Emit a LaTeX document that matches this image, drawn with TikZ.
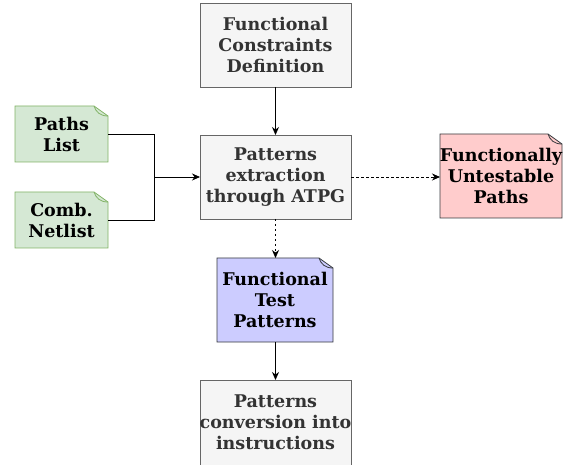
\documentclass[tikz,border=0pt]{standalone}
\usepackage{fontspec}
\setmainfont{DejaVu Serif}
\usetikzlibrary{arrows.meta}
\definecolor{grayfill}{HTML}{F5F5F5}
\definecolor{graydraw}{HTML}{666666}
\definecolor{graytext}{HTML}{333333}
\definecolor{greenfill}{HTML}{D5E8D4}
\definecolor{greendraw}{HTML}{82B366}
\definecolor{redfill}{HTML}{FFCCCC}
\definecolor{bluefill}{HTML}{CCCCFF}
\definecolor{darkdraw}{HTML}{36393D}
\tikzset{
  txt/.style={align=center, font=\fontsize{17.5}{21}\selectfont\bfseries, inner sep=0pt},
  procbox/.style={fill=grayfill, draw=graydraw, line width=0.8pt},
  conn/.style={draw=black, line width=0.8pt, -{Stealth[length=8pt,width=7pt]}},
  dconn/.style={conn, dash pattern=on 2.5pt off 2.5pt},
}
\newcommand{\notebox}[7]{% x1 y1 x2 y2 fill draw name
  \fill[#5] (#1,#2) -- ({#3-14},#2) -- (#3,{#2+10}) -- (#3,#4) -- (#1,#4) -- cycle;
  \draw[#6, line width=0.8pt] (#1,#2) -- ({#3-14},#2) -- (#3,{#2+10}) -- (#3,#4) -- (#1,#4) -- cycle;
  \draw[#6, line width=0.8pt] ({#3-14},#2) .. controls ({#3-12},{#2+6}) and ({#3-8},{#2+10}) .. (#3,{#2+10});
  \coordinate (#7) at ({(#1+#3)/2},{(#2+#4)/2});
}
\begin{document}
\begin{tikzpicture}[x=1pt,y=-1pt]
\useasboundingbox (0,0) rectangle (568,465);
\begin{scope}
\clip (0,0) rectangle (568,465);
% top box
\draw[procbox] (200,3) rectangle (351,87);
\node[txt, text=graytext] (fcd) at (275.5,45) {Functional\\Constraints\\Definition};
\coordinate (fcd-s) at (275.5,87);
% ATPG box
\draw[procbox] (200,135) rectangle (351,219);
\node[txt, text=graytext] (atpg) at (275.5,177) {Patterns\\extraction\\through ATPG};
\coordinate (atpg-n) at (275.5,135);
\coordinate (atpg-s) at (275.5,219);
\coordinate (atpg-w) at (200,177);
\coordinate (atpg-e) at (351,177);
% bottom box
\fill[grayfill] (200,380) rectangle (351,470);
\draw[graydraw, line width=0.8pt] (200,470) -- (200,380) -- (351,380) -- (351,470);
\node[txt, text=graytext] (conv) at (275.5,422) {Patterns\\conversion into\\instructions};
\coordinate (conv-n) at (275.5,380);
% notes
\notebox{15}{106}{108}{162}{greenfill}{greendraw}{paths}
\node[txt] (pathst) at (paths) {Paths\\List};
\notebox{15}{192}{108}{248}{greenfill}{greendraw}{netl}
\node[txt] (netlt) at (netl) {Comb.\\Netlist};
\notebox{440}{134}{562}{218}{redfill}{darkdraw}{fup}
\node[txt] (fupt) at (fup) {Functionally\\Untestable\\Paths};
\notebox{217}{258}{333}{342}{bluefill}{darkdraw}{ftp}
\node[txt] (ftpt) at (ftp) {Functional\\Test\\Patterns};
\coordinate (paths-e) at (108,134);
\coordinate (netl-e) at (108,220);
\coordinate (fup-w) at (440,177);
\coordinate (ftp-n) at (275.5,258);
\coordinate (ftp-s) at (275.5,342);
\coordinate (join) at (154,177);
% connectors
\draw[conn] (fcd-s) -- (atpg-n);
\draw[line width=0.8pt] (paths-e) -| (join);
\draw[line width=0.8pt] (netl-e) -| (join);
\draw[conn] (join) -- (atpg-w);
\draw[dconn] (atpg-e) -- (fup-w);
\draw[dconn] (atpg-s) -- (ftp-n);
\draw[conn] (ftp-s) -- (conv-n);
\end{scope}
\end{tikzpicture}
\end{document}
